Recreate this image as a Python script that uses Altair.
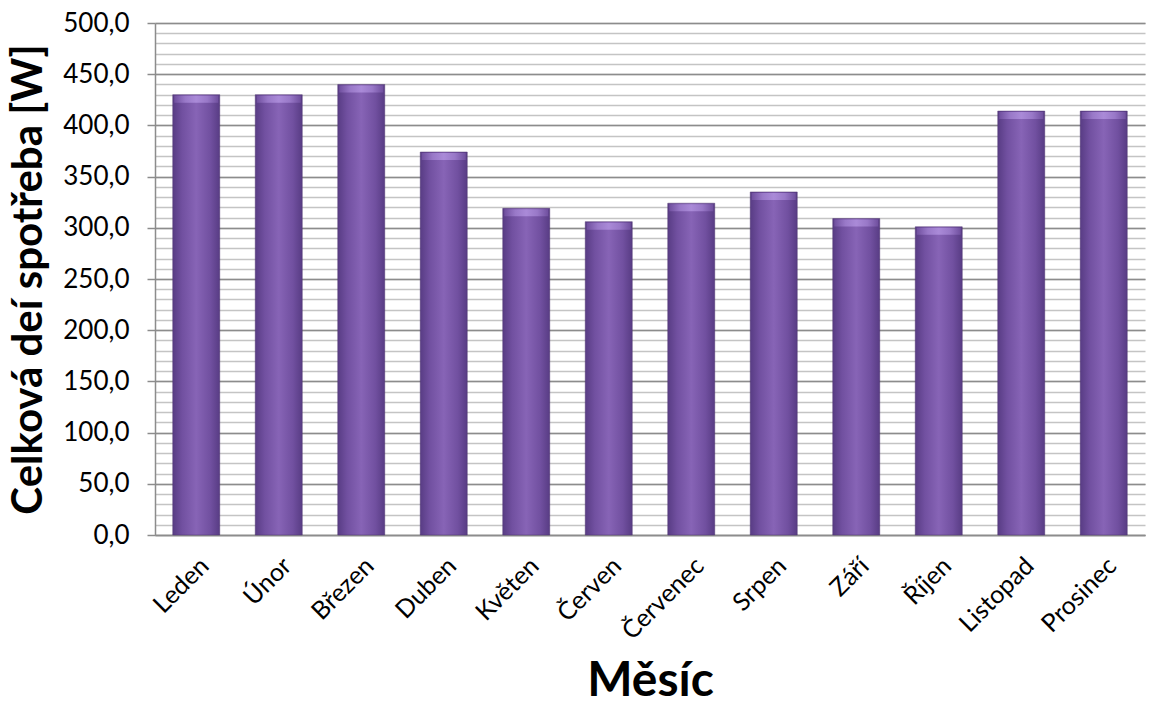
import altair as alt
import pandas as pd

months = ["Leden", "Únor", "Březen", "Duben", "Květen", "Červen",
          "Červenec", "Srpen", "Září", "Říjen", "Listopad", "Prosinec"]
values = [430, 430, 440, 374, 319, 306, 324, 335, 309, 301, 414, 414]

major_ticks = list(range(0, 501, 50))
minor_ticks = list(range(0, 501, 10))

df = pd.DataFrame({"Měsíc": months, "Spotřeba": values})

FONT = "Lato"

x_enc = alt.X("Měsíc:N", sort=months,
              scale=alt.Scale(paddingInner=0.43, paddingOuter=0.215),
              axis=alt.Axis(title="Měsíc", labelAngle=-45, labelFontSize=25,
                            labelFont=FONT, labelColor="#000000",
                            labelPadding=18, ticks=False,
                            domainColor="#8c8c8c", domainWidth=1.5,
                            titleFont=FONT, titleFontSize=48,
                            titleFontWeight="bold", titleColor="#000000",
                            titlePadding=14))

scale_y = alt.Scale(domain=[0, 500], nice=False)

minor = alt.Chart(df).mark_bar(opacity=0).encode(
    x=x_enc,
    y=alt.Y("Spotřeba:Q", scale=scale_y,
            axis=alt.Axis(orient="right", values=minor_ticks, labels=False,
                          ticks=False, domain=False, title=None,
                          grid=True, gridColor="#c4c4c4", gridWidth=1.5)),
)

bars = alt.Chart(df).mark_bar(
    stroke="#4e336f", strokeWidth=0.8, strokeOpacity=0.6,
    color=alt.Gradient(
        gradient="linear", x1=0, x2=1, y1=0, y2=0,
        stops=[
            alt.GradientStop(color="#583c84", offset=0),
            alt.GradientStop(color="#7150a0", offset=0.2),
            alt.GradientStop(color="#8764b6", offset=0.5),
            alt.GradientStop(color="#7150a0", offset=0.8),
            alt.GradientStop(color="#583c84", offset=1),
        ],
    ),
).encode(
    x=x_enc,
    y=alt.Y("Spotřeba:Q", scale=scale_y,
            axis=alt.Axis(orient="left", values=major_ticks,
                          labelExpr="replace(format(datum.value, '.1f'), '.', ',')",
                          labelFont=FONT, labelFontSize=26, labelColor="#000000",
                          tickSize=8, tickColor="#8c8c8c", tickWidth=1.5,
                          labelPadding=18,
                          domainColor="#8c8c8c", domainWidth=1.5,
                          grid=True, gridColor="#8c8c8c", gridWidth=1.5,
                          title="Celková deí spotřeba [W]",
                          titleFont=FONT, titleFontSize=42,
                          titleFontWeight="bold", titleColor="#000000",
                          titlePadding=12)),
)

caps = alt.Chart(df).mark_tick(
    size=44, thickness=7, yOffset=4.5, opacity=0.85,
    color=alt.Gradient(
        gradient="linear", x1=0, x2=1, y1=0, y2=0,
        stops=[
            alt.GradientStop(color="#7352a2", offset=0),
            alt.GradientStop(color="#9f7fce", offset=0.25),
            alt.GradientStop(color="#b091de", offset=0.5),
            alt.GradientStop(color="#9f7fce", offset=0.75),
            alt.GradientStop(color="#7352a2", offset=1),
        ],
    ),
).encode(
    x=x_enc,
    y=alt.Y("Spotřeba:Q", scale=scale_y, axis=None),
)

chart = alt.layer(minor, bars, caps).resolve_axis(y="independent").properties(
    width=990, height=512,
    autosize=alt.AutoSizeParams(type="none"),
    padding={"left": 155, "top": 23, "right": 7, "bottom": 173},
    background="#ffffff",
).configure_view(stroke=None)

chart.save("out.html", embed_options={"renderer": "svg", "actions": False})
